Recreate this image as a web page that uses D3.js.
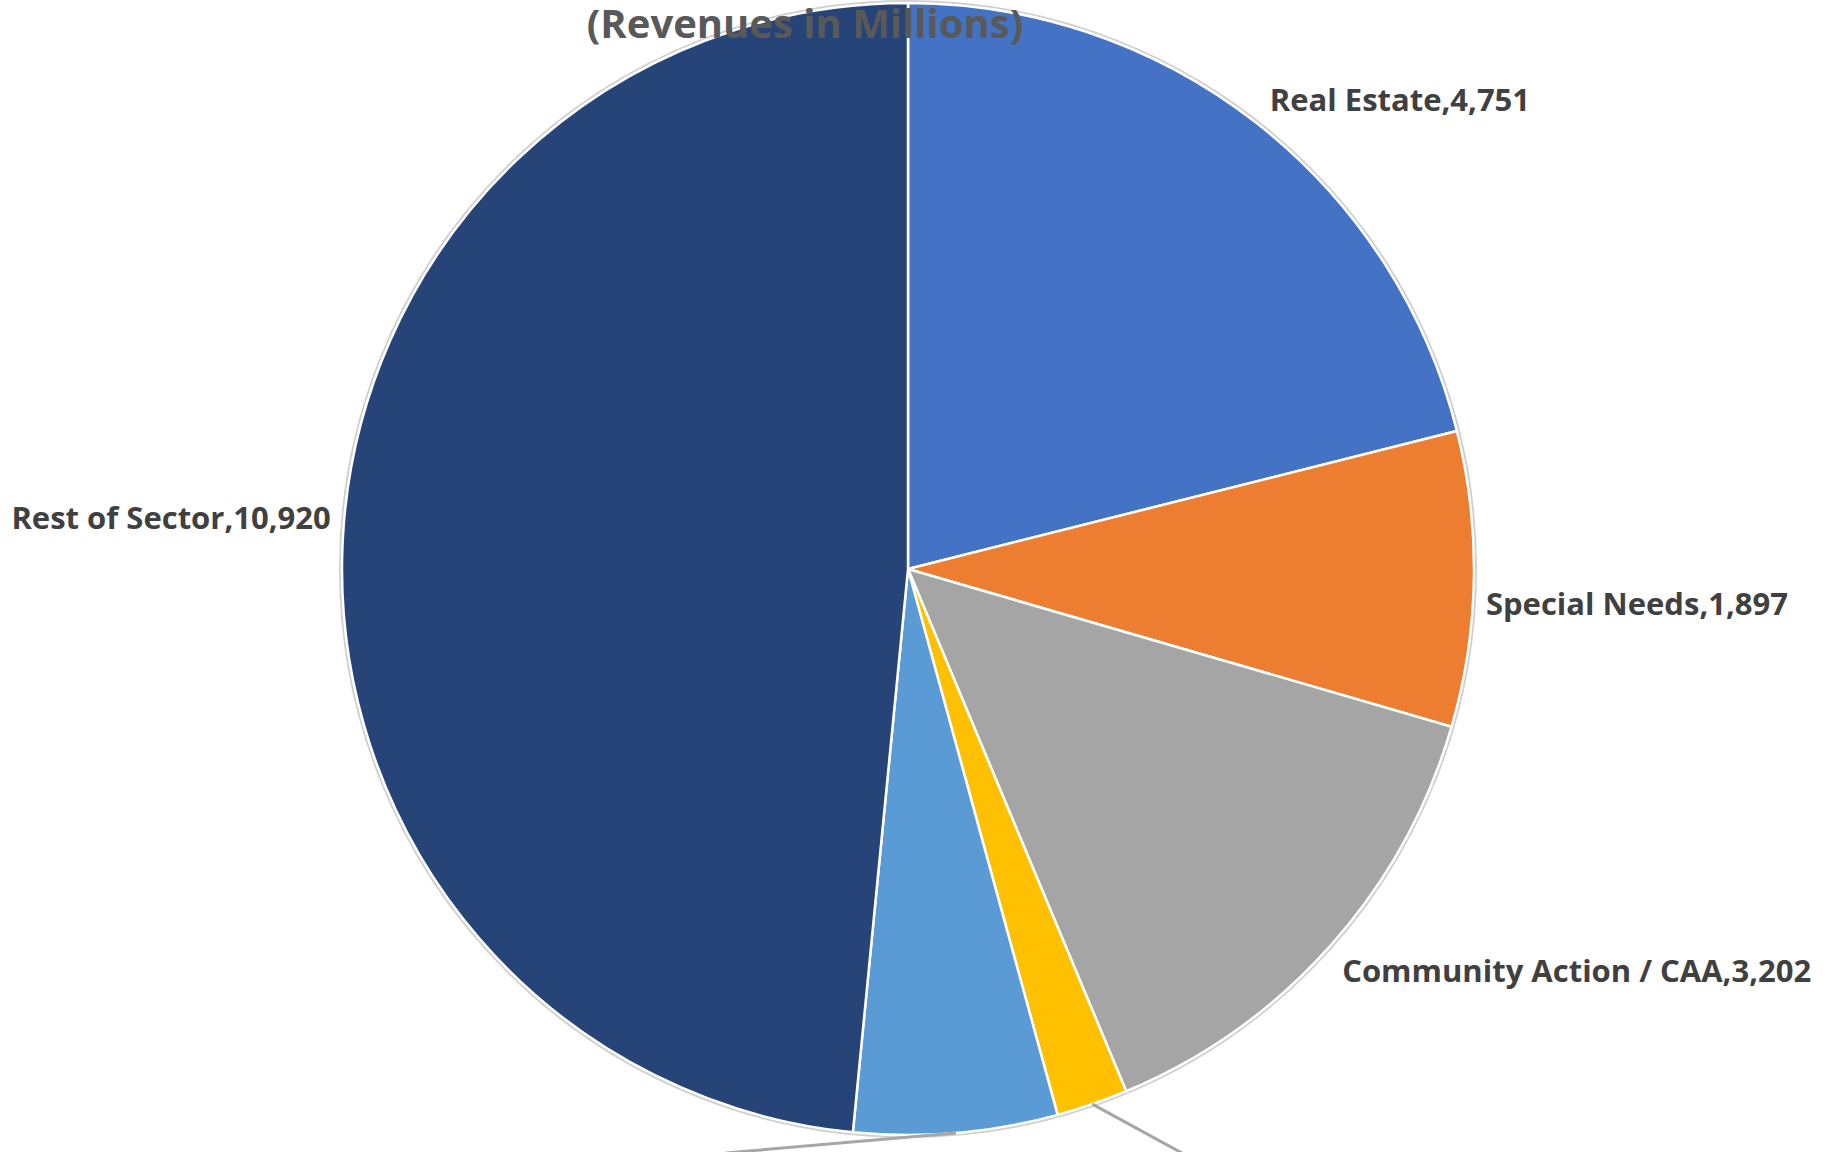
<!DOCTYPE html>
<html>
<head>
<meta charset="utf-8">
<script src="https://cdn.jsdelivr.net/npm/d3@7"></script>
<style>
  html, body { margin: 0; padding: 0; background: #fff; overflow: hidden; }
  #chart { width: 1832px; height: 1152px; }
  text { font-family: "Open Sans", sans-serif; font-weight: bold; }
</style>
</head>
<body>
<div id="chart"></div>
<script>
// Slice data, clockwise from 12 o'clock
const categories = ["Real Estate", "Special Needs", "Community Action / CAA", "Other A", "Other B", "Rest of Sector"];
const values = [4751, 1897, 3202, 460, 1310, 10920];
const colors = ["#4472C4", "#ED7D31", "#A5A5A5", "#FFC000", "#5B9BD5", "#264478"];
// the two small slices have their labels cut off below the picture
const showLabel = [true, true, true, false, false, true];
const titleText = "(Revenues in Millions)";

const width = 1832, height = 1152;
const cx = 908, cy = 569, radius = 566;

// small hand nudges so labels sit where Excel put them
const labelNudge = {
    "Real Estate": [-1, -4],
    "Special Needs": [-12, 25],
    "Community Action / CAA": [-6, 9],
    "Rest of Sector": [12, -22]
};

const data = categories.map((c, i) => ({ name: c, value: values[i], color: colors[i], label: showLabel[i] }));

const svg = d3.select("#chart")
    .append("svg")
    .attr("width", width)
    .attr("height", height);

const g = svg.append("g")
    .attr("transform", `translate(${cx},${cy})`);

const pie = d3.pie()
    .sort(null)
    .value(d => d.value);

const arcs = pie(data);

const arc = d3.arc()
    .innerRadius(0)
    .outerRadius(radius);

// soft outer edge
g.append("circle")
    .attr("r", radius + 1)
    .style("fill", "none")
    .style("stroke", "#cfcfcf")
    .style("stroke-width", 4);

g.selectAll("path.slice")
    .data(arcs)
    .enter()
    .append("path")
    .attr("class", "slice")
    .attr("d", arc)
    .style("fill", d => d.data.color)
    .style("stroke", "#ffffff")
    .style("stroke-width", 2.5)
    .style("stroke-linejoin", "round");

// labels outside the pie
const labelRadius = 590;
const midAngle = d => (d.startAngle + d.endAngle) / 2;
const nudge = d => labelNudge[d.data.name] || [0, 0];

g.selectAll("text.label")
    .data(arcs.filter(d => d.data.label))
    .enter()
    .append("text")
    .attr("class", "label")
    .attr("x", d => labelRadius * Math.sin(midAngle(d)) + nudge(d)[0])
    .attr("y", d => -labelRadius * Math.cos(midAngle(d)) + nudge(d)[1])
    .attr("dy", "0.35em")
    .attr("text-anchor", d => Math.sin(midAngle(d)) >= 0 ? "start" : "end")
    .style("font-size", "31px")
    .style("fill", "#404040")
    .text(d => d.data.name + "," + d3.format(",")(d.data.value));

// leader lines for the small slices whose labels fall outside the frame
const leaders = arcs.filter(d => !d.data.label);
g.selectAll("polyline.leader")
    .data(leaders)
    .enter()
    .append("polyline")
    .attr("class", "leader")
    .attr("points", (d, i) => {
        const a = midAngle(d);
        const p0 = [radius * Math.sin(a), -radius * Math.cos(a)];
        const p1 = i === 0 ? [p0[0] + 110, p0[1] + 60] : [p0[0] - 230, p0[1] + 20];
        return [p0, p1].map(p => p.join(",")).join(" ");
    })
    .style("fill", "none")
    .style("stroke", "#a6a6a6")
    .style("stroke-width", 3);

// Title drawn over the top of the pie, as in the original
svg.append("text")
    .attr("x", 805)
    .attr("y", 38)
    .attr("text-anchor", "middle")
    .style("font-size", "40px")
    .style("fill", "#595959")
    .text(titleText);
</script>
</body>
</html>
